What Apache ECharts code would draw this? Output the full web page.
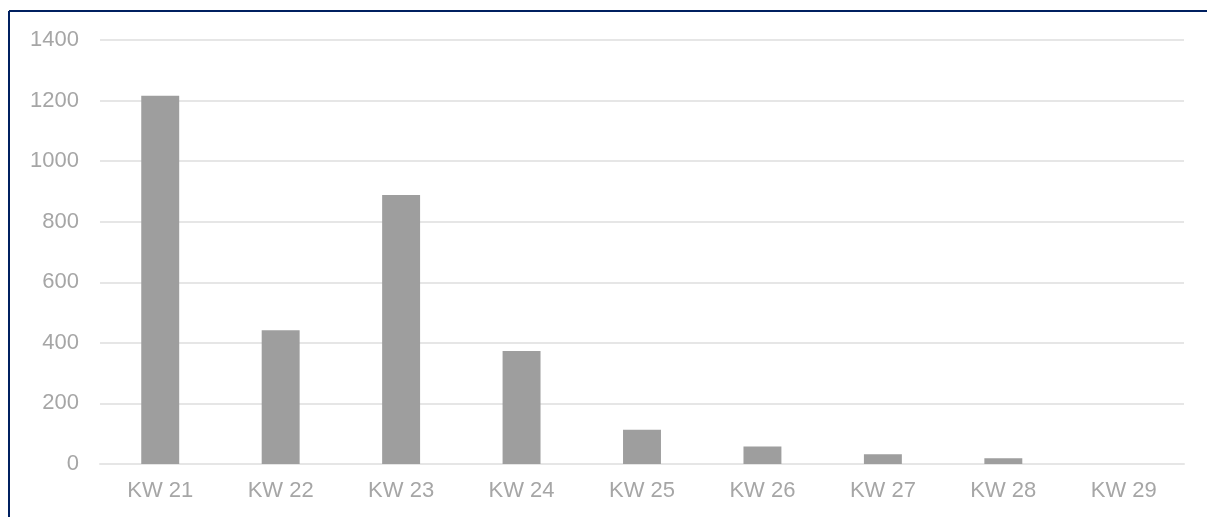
<!DOCTYPE html>
<html>
<head>
<meta charset="utf-8">
<script src="https://cdn.jsdelivr.net/npm/echarts@6/dist/echarts.min.js"></script>
<style>
html,body{margin:0;padding:0;background:#fff;}
#chart{width:1207px;height:517px;}
</style>
</head>
<body>
<div id="chart"></div>
<script>
const categories = ['KW 21','KW 22','KW 23','KW 24','KW 25','KW 26','KW 27','KW 28','KW 29'];
const values = [1216, 442, 888, 373, 113, 58, 32, 19, 0];
const yTicks = [0, 200, 400, 600, 800, 1000, 1200, 1400];

const chart = echarts.init(document.getElementById('chart'), null, {renderer:'canvas'});
chart.setOption({
  animation:false,
  backgroundColor:'#ffffff',
  grid:{left:100, right:23, top:40, bottom:53, containLabel:false},
  graphic:[
    {type:'line', shape:{x1:9, y1:11, x2:1207, y2:11}, style:{stroke:'#002060', lineWidth:2}},
    {type:'line', shape:{x1:9, y1:11, x2:9, y2:517}, style:{stroke:'#002060', lineWidth:2}}
  ],
  xAxis:{
    type:'category',
    data:categories,
    axisLine:{show:true, lineStyle:{color:'#e6e6e6', width:2}},
    axisTick:{show:false},
    axisLabel:{color:'#a6a6a6', fontSize:22, fontFamily:'Liberation Sans, Arial, sans-serif', margin:16}
  },
  yAxis:{
    type:'value',
    min:yTicks[0],
    max:yTicks[yTicks.length-1],
    interval:yTicks[1]-yTicks[0],
    axisLine:{show:false},
    axisTick:{show:false},
    splitLine:{lineStyle:{color:'#e6e6e6', width:2}},
    axisLabel:{color:'#a6a6a6', fontSize:22, fontFamily:'Liberation Sans, Arial, sans-serif', margin:21,
      formatter:function(v){return String(v);}}
  },
  series:[{
    type:'bar',
    data:values,
    barWidth:'31.5%',
    itemStyle:{color:'#9e9e9e'}
  }]
});
</script>
</body>
</html>
